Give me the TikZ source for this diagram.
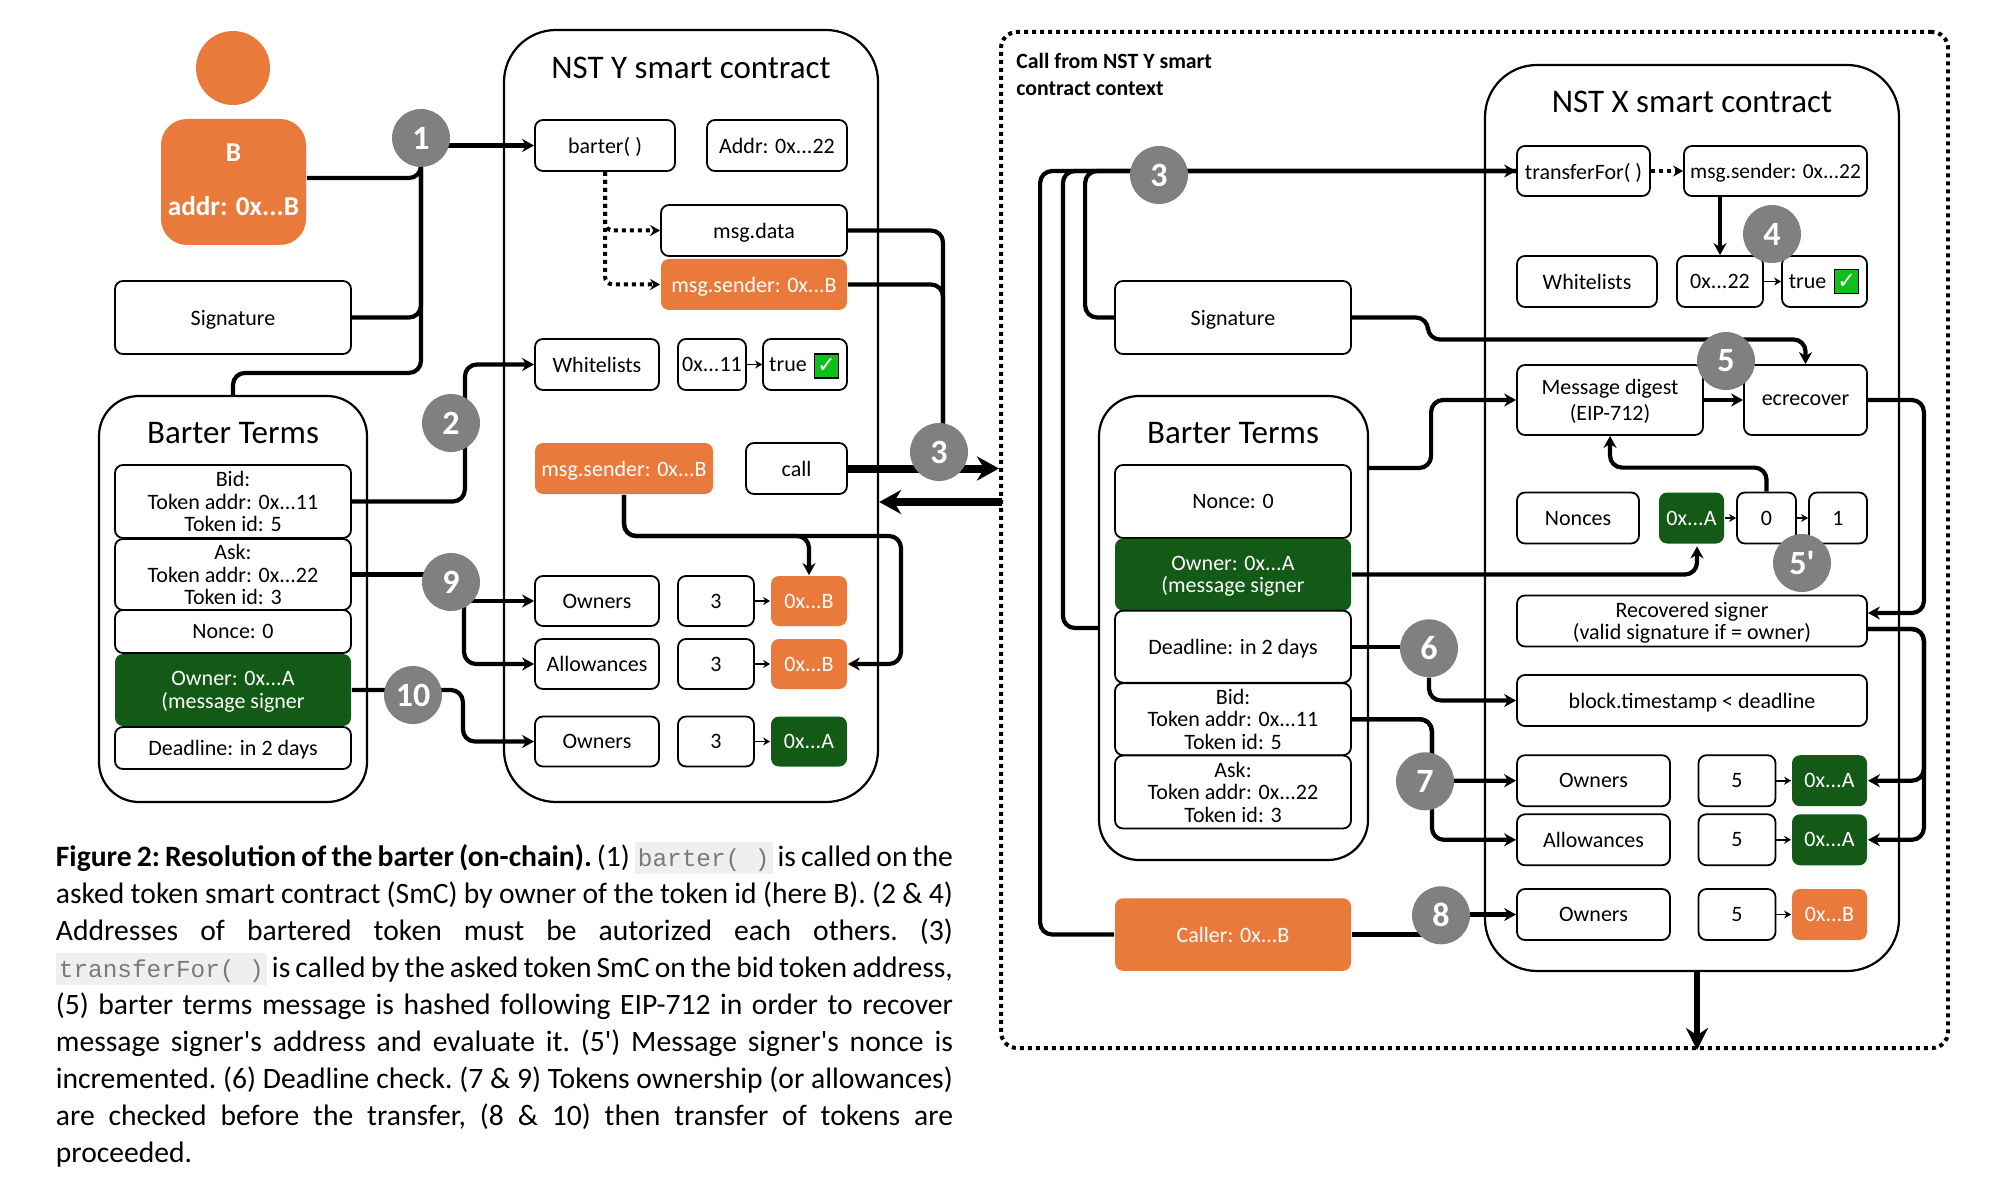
\documentclass[tikz,border=0pt]{standalone}
\usepackage{fontspec}
\setmainfont{Carlito}
\setmonofont{Liberation Mono}
\newfontfamily\symbolfont{DejaVu Sans}
\usetikzlibrary{arrows.meta,calc}

\definecolor{orangeB}{HTML}{EA7A3C}
\definecolor{greenA}{HTML}{135A17}
\definecolor{badgegray}{HTML}{808080}
\definecolor{checkgreen}{HTML}{0FBF1A}
\definecolor{codebg}{HTML}{EFEFEF}
\definecolor{codefg}{HTML}{7A7A7A}

\newcommand{\codebit}[1]{{\setlength{\fboxsep}{1.5pt}\colorbox{codebg}{\rule[-2.5pt]{0pt}{13pt}\textcolor{codefg}{\fontsize{12.2}{12}\selectfont\ttfamily #1}}}}

\pgfdeclarelayer{front}
\pgfsetlayers{main,front}

\tikzset{
  wh/.style 2 args={minimum width=#1*.5pt,minimum height=#2*.5pt},
  cell/.style={draw,line width=.9pt,rounded corners=4pt,inner sep=0pt,align=center,text depth=-1.6pt,
    font=\fontsize{11}{11.3}\selectfont,fill=white},
  orangecell/.style={fill=orangeB,draw=none,text=white},
  greencell/.style={fill=greenA,draw=none,text=white},
  contract/.style={draw,line width=1.1pt,rounded corners=26pt,inner sep=0pt},
  title/.style={font=\fontsize{16.5}{16.5}\selectfont,inner sep=0pt},
  badge/.style={circle,fill=badgegray,text=white,minimum size=29pt,inner sep=0pt,
    font=\bfseries\fontsize{17}{17}\selectfont},
  wire/.style={line width=2.1pt,rounded corners=6pt},
  arrowwire/.style={wire,-{Stealth[length=6pt,width=6.5pt]}},
  dotwire/.style={line width=2pt,dotted,rounded corners=4pt,-{Stealth[length=5pt,width=5.5pt]}},
  thickwire/.style={line width=4pt,-{Stealth[length=11pt,width=12pt]}},
  tinywire/.style={line width=.9pt,-{Stealth[length=3.5pt,width=4pt]}},
  check/.style={draw,line width=.9pt,fill=checkgreen,text=white,inner sep=0pt,
    font=\symbolfont\fontsize{11}{11}\selectfont},
}

\begin{document}
\begin{tikzpicture}[x=.5pt,y=-.5pt]
\useasboundingbox (0,0) rectangle (2000,1192);

% outer frames
\node[contract,wh={947}{1016},rounded corners=8pt,line width=2pt,dotted] (frame) at (1474.5,540) {};
\node[contract,wh={374}{772}] (contractY) at (691,416) {};
\node[contract,wh={414}{906}] (contractX) at (1692,518) {};
\node[contract,wh={268}{406},rounded corners=20pt] (terms1) at (233,599) {};
\node[contract,wh={269}{464},rounded corners=20pt] (terms2) at (1233.5,628) {};

\node[title] (titleY) at (691,68) {NST Y smart contract};
\node[title] (titleX) at (1692,102) {NST X smart contract};
\node[title] (titleT1) at (233,433.5) {Barter Terms};
\node[title] (titleT2) at (1233,433.5) {Barter Terms};
\node[inner sep=0pt,align=left,font=\bfseries\fontsize{10.9}{13.5}\selectfont,anchor=west] (callctx) at (1016,74.5) {Call from NST Y smart\\contract context};

% person
\node[circle,fill=orangeB,minimum size=37pt,inner sep=0pt] (head) at (233,68) {};
\node[cell,orangecell,wh={145}{126},rounded corners=13pt,text depth=2pt,font=\bfseries\fontsize{13.6}{14}\selectfont] (body) at (233.5,182) {B\\[13pt]addr: 0x...B};

\begin{scope}[every node/.style={cell}]
  % left column
  \node[wh={236}{73}] (sig1) at (233,317.5) {Signature};
  \node[wh={236}{73}] (bid1) at (233,501.5) {Bid:\\Token addr: 0x...11\\Token id: 5};
  \node[wh={236}{71}] (ask1) at (233,574.5) {Ask:\\Token addr: 0x...22\\Token id: 3};
  \node[wh={236}{43}] (nonce1) at (233,631.5) {Nonce: 0};
  \node[wh={236}{72},greencell] (owner1) at (233,690) {Owner: 0x...A\\(message signer};
  \node[wh={236}{42}] (deadline1) at (233,748) {Deadline: in 2 days};

  % NST Y
  \node[wh={140}{51}] (barterfn) at (605,145.5) {barter( )};
  \node[wh={140}{51}] (addr) at (777,145.5) {Addr: 0x...22};
  \node[wh={186}{51}] (msgdata) at (754,230.5) {msg.data};
  \node[wh={186}{51},orangecell] (msgsender1) at (754,284.5) {msg.sender: 0x...B};
  \node[wh={124}{51}] (white1) at (597,364.5) {Whitelists};
  \node[wh={68}{51}] (key1) at (712,364.5) {0x...11};
  \node[wh={84}{51}] (val1) at (805,364.5) {true\hspace*{17pt}};
  \node[wh={178}{51},orangecell] (msgsender2) at (624,468.5) {msg.sender: 0x...B};
  \node[wh={101}{51}] (call) at (796.5,468.5) {call};
  \node[wh={124}{50}] (owners1) at (597,601) {Owners};
  \node[wh={76}{50}] (id1) at (716,601) {3};
  \node[wh={76}{50},orangecell] (own1) at (809,601) {0x...B};
  \node[wh={124}{50}] (allow1) at (597,664) {Allowances};
  \node[wh={76}{50}] (id2) at (716,664) {3};
  \node[wh={76}{50},orangecell] (own2) at (809,664) {0x...B};
  \node[wh={124}{50}] (owners2) at (597,741.5) {Owners};
  \node[wh={76}{50}] (id3) at (716,741.5) {3};
  \node[wh={76}{50},greencell] (own3) at (809,741.5) {0x...A};

  % call context, left column
  \node[wh={236}{73}] (sig2) at (1233,317.5) {Signature};
  \node[wh={236}{73}] (nonce2) at (1233,501.5) {Nonce: 0};
  \node[wh={236}{72},greencell] (owner2) at (1233,574.5) {Owner: 0x...A\\(message signer};
  \node[wh={236}{72}] (deadline2) at (1233,646.7) {Deadline: in 2 days};
  \node[wh={236}{72}] (bid2) at (1233,719.2) {Bid:\\Token addr: 0x...11\\Token id: 5};
  \node[wh={236}{73}] (ask2) at (1233,792) {Ask:\\Token addr: 0x...22\\Token id: 3};
  \node[wh={236}{72.5},orangecell] (caller) at (1233,934.5) {Caller: 0x...B};

  % NST X
  \node[wh={133}{50}] (transfer) at (1583.5,171) {transferFor( )};
  \node[wh={183}{50},font=\fontsize{10.7}{11}\selectfont] (msgsender3) at (1775.5,171) {msg.sender: 0x...22};
  \node[wh={140}{51}] (white2) at (1587,281.5) {Whitelists};
  \node[wh={86}{51}] (key2) at (1720,281.5) {0x...22};
  \node[wh={85}{51}] (val2) at (1824.5,281.5) {true\hspace*{17pt}};
  \node[wh={186}{70}] (digest) at (1610,400) {Message digest\\[2pt](EIP-712)};
  \node[wh={123}{70}] (ecrecover) at (1805.5,400) {ecrecover};
  \node[wh={122}{51}] (nonces) at (1578,518) {Nonces};
  \node[wh={65}{51},greencell] (signer) at (1691.5,518) {0x...A};
  \node[wh={59}{51}] (count0) at (1766.5,518) {0};
  \node[wh={58}{51}] (count1) at (1838,518) {1};
  \node[wh={350}{51}] (recovered) at (1692,621) {Recovered signer\\(valid signature if = owner)};
  \node[wh={350}{51}] (block) at (1692,700.5) {block.timestamp < deadline};
  \node[wh={153}{51}] (owners3) at (1593.5,780.7) {Owners};
  \node[wh={77}{51}] (id4) at (1737,780.7) {5};
  \node[wh={75}{51},greencell] (own4) at (1829.5,780.7) {0x...A};
  \node[wh={153}{51}] (allow2) at (1593.5,839.8) {Allowances};
  \node[wh={77}{51}] (id5) at (1737,839.8) {5};
  \node[wh={75}{51},greencell] (own5) at (1829.5,839.8) {0x...A};
  \node[wh={153}{51}] (owners4) at (1593.5,914.5) {Owners};
  \node[wh={77}{51}] (id6) at (1737,914.5) {5};
  \node[wh={75}{51},orangecell] (own6) at (1829.5,914.5) {0x...B};
\end{scope}

\node[check,wh={24}{24}] (check1) at (826.5,366) {✓};
\node[check,wh={24}{24}] (check2) at (1846.5,281.5) {✓};

\begin{pgfonlayer}{front}
  \begin{scope}[every node/.style={badge}]
    \node (b1) at (421,138) {1};
    \node (b2) at (451,423) {2};
    \node (b3) at (939,452) {3};
    \node (b9) at (451,582) {9};
    \node (b10) at (413,695) {10};
    \node (b3x) at (1159,175) {3};
    \node (b4) at (1772,234) {4};
    \node (b5) at (1726,361) {5};
    \node (b5x) at (1802,563) {5\textquotesingle};
    \node (b6) at (1429,648.3) {6};
    \node (b7) at (1425,781.3) {7};
    \node (b8) at (1441,915.3) {8};
  \end{scope}
\end{pgfonlayer}

% NST Y wires
\draw[wire] ([yshift=2pt]body.east) -| (b1);
\draw[wire] (sig1.east) -| (b1);
\draw[wire] (terms1.north) -- ++(0,-22) -| (b1);
\draw[arrowwire] (b1 |- barterfn.west) -- (barterfn.west);
\draw[dotwire] (barterfn.south) |- (msgdata.west);
\draw[dotwire] (barterfn.south) |- (msgsender1.west);
\draw[wire] (msgdata.east) -| ([xshift=2pt]b3.center);
\draw[wire] (msgsender1.east) -| ([xshift=2pt]b3.center);
\draw[thickwire] (call.east) -- (call.east -| frame.west);
\coordinate (back) at (1002,502);
\draw[thickwire] (back) -- (back -| contractY.east);
\draw[arrowwire] (bid1.east) -- ++(113,0) |- (white1.west);
\draw[wire] (ask1.east) -- (ask1.east -| b9.center);
\draw[arrowwire] (b9.center |- owners1.west) -- (owners1.west);
\draw[arrowwire] ([xshift=6.5pt]b9.center) |- (allow1.west);
\draw[arrowwire] (owner1.east) -- ++(111,0) |- (owners2.west);
\coordinate (turn) at (901,536);
\draw[arrowwire] (msgsender2.south) |- (turn -| own1.north) -- (own1.north);
\draw[arrowwire] (msgsender2.south) |- (turn) |- (own2.east);
\draw[tinywire] (key1.east) -- (val1.west);
\draw[tinywire] (id1.east) -- (own1.west);
\draw[tinywire] (id2.east) -- (own2.west);
\draw[tinywire] (id3.east) -- (own3.west);

% NST X wires
\draw[arrowwire] (caller.west) -- ++(-74,0) |- (transfer.west);
\draw[wire] (terms2.west) -- ++(-35,0) |- (transfer.west);
\draw[wire] (sig2.west) -- ++(-29,0) |- (transfer.west);
\draw[dotwire] (transfer.east) -- (msgsender3.west);
\draw[arrowwire] (key2.north |- msgsender3.south) -- (key2.north);
\draw[tinywire] (key2.east) -- (val2.west);
\draw[arrowwire] (sig2.east) -- ++(76,0) -- ++(0,22) -| (ecrecover.north);
\draw[arrowwire] ([yshift=80pt]terms2.east) -- ++(62,0) |- (digest.west);
\draw[arrowwire] (digest.east) -- (ecrecover.west);
\draw[arrowwire] (ecrecover.east) -- ++(56,0) |- ([yshift=4pt]recovered.east);
\draw[arrowwire] (count0.north) -- ++(0,-24) -| (digest.south);
\draw[arrowwire] (owner2.east) -| ([xshift=2.75pt,yshift=-1pt]signer.south);
\draw[tinywire] (signer.east) -- (count0.west);
\draw[tinywire] (count0.east) -- (count1.west);
\draw[arrowwire] ([yshift=-4pt]recovered.east) -- ++(56,0) |- (own4.east);
\draw[arrowwire] ([yshift=-4pt]recovered.east) -- ++(56,0) |- (own5.east);
\draw[wire] (deadline2.east) -- (deadline2.east -| b6.center);
\draw[arrowwire] (b6) |- (block.west);
\draw[arrowwire] (bid2.east) -- ++(80,0) |- (owners3.west);
\draw[arrowwire] (bid2.east) -- ++(80,0) |- (allow2.west);
\draw[wire] (caller.east) -- (caller.east -| b8.center);
\draw[arrowwire] (b8 |- owners4.west) -- (owners4.west);
\draw[tinywire] (id4.east) -- (own4.west);
\draw[tinywire] (id5.east) -- (own5.west);
\draw[tinywire] (id6.east) -- (own6.west);
\draw[line width=3pt,-{Stealth[length=11pt,width=11pt]}] ([xshift=2.5pt]contractX.south) -- ([xshift=2.5pt]contractX.south |- frame.south);

% caption
\node[anchor=north west,inner sep=0pt,text width=448.5pt,align=justify,
  font=\frenchspacing\fontsize{14.8}{18.5}\selectfont] (caption) at (55.5,842) {\textbf{Figure 2: Resolution of the barter (on-chain).} (1) \codebit{barter( )} is called on the\linebreak
asked token smart contract (SmC) by owner of the token id (here B). (2 \& 4)\linebreak
Addresses of bartered token must be autorized each others. (3)\linebreak
\codebit{transferFor( )} is called by the asked token SmC on the bid token address,\linebreak
(5) barter terms message is hashed following EIP-712 in order to recover\linebreak
message signer\textquotesingle s address and evaluate it. (5\textquotesingle) Message signer\textquotesingle s nonce is\linebreak
incremented. (6) Deadline check. (7 \& 9) Tokens ownership (or allowances)\linebreak
are checked before the transfer, (8 \& 10) then transfer of tokens are\linebreak
proceeded.};
\end{tikzpicture}
\end{document}
